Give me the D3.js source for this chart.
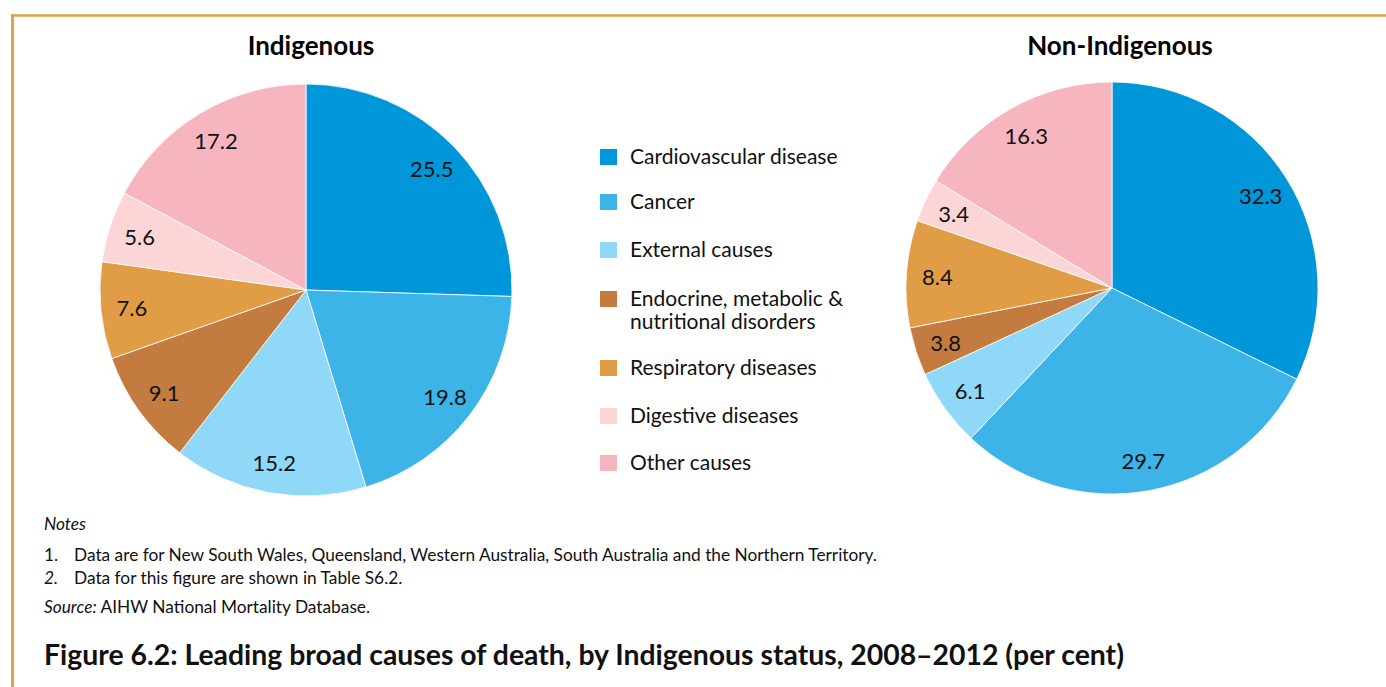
<!DOCTYPE html>
<html>
<head>
<meta charset="utf-8">
<script src="https://cdn.jsdelivr.net/npm/d3@7"></script>
<style>
  html, body { margin: 0; padding: 0; background: #fff; }
  svg { display: block; font-family: Lato, "Open Sans", sans-serif; }
</style>
</head>
<body>
<svg id="chart" width="1386" height="687"></svg>
<script>
// Causes of death, in drawing order (clockwise from 12 o'clock)
const causes = [
  "Cardiovascular disease",
  "Cancer",
  "External causes",
  "Endocrine, metabolic & nutritional disorders",
  "Respiratory diseases",
  "Digestive diseases",
  "Other causes"
];
// Legend text broken into lines
const legendLines = [
  ["Cardiovascular disease"],
  ["Cancer"],
  ["External causes"],
  ["Endocrine, metabolic &", "nutritional disorders"],
  ["Respiratory diseases"],
  ["Digestive diseases"],
  ["Other causes"]
];
const causeColors = ["#0097da", "#3cb4e7", "#8fd8f8", "#c37b40", "#e09d45", "#fcd6d6", "#f7b5c0"];

// Per cent of deaths, 2008–2012
const indigenous    = [25.5, 19.8, 15.2, 9.1, 7.6, 5.6, 17.2];
const nonIndigenous = [32.3, 29.7, 6.1, 3.8, 8.4, 3.4, 16.3];

const panelTitles = ["Indigenous", "Non-Indigenous"];
const notes = [
  "Data are for New South Wales, Queensland, Western Australia, South Australia and the Northern Territory.",
  "Data for this figure are shown in Table S6.2."
];
const source = "AIHW National Mortality Database.";
const figureTitle = "Figure 6.2: Leading broad causes of death, by Indigenous status, 2008\u20132012 (per cent)";

const svg = d3.select("#chart");

// Frame: rule along the top and down the left edge
const frameColor = "#e3a04b";
svg.append("line").attr("x1", 11).attr("x2", 1386).attr("y1", 15.5).attr("y2", 15.5)
  .attr("stroke", frameColor).attr("stroke-width", 2.5);
svg.append("line").attr("x1", 12.5).attr("x2", 12.5).attr("y1", 14.5).attr("y2", 687)
  .attr("stroke", frameColor).attr("stroke-width", 3);

const color = d3.scaleOrdinal().domain(causes).range(causeColors);

const radius = 206;
const pie = d3.pie().sort(null).value(d => d.value);
const arc = d3.arc().innerRadius(0).outerRadius(radius);
const labelArc = d3.arc().innerRadius(175).outerRadius(175);

const panels = [
  { title: panelTitles[0], values: indigenous, cx: 306, cy: 290, tx: 311 },
  { title: panelTitles[1], values: nonIndigenous, cx: 1112, cy: 288, tx: 1120 }
];

panels.forEach(p => {
  const data = causes.map((c, i) => ({ cause: c, value: p.values[i] }));
  svg.append("text")
    .attr("x", p.tx).attr("y", 55)
    .attr("text-anchor", "middle")
    .attr("font-size", 26).attr("font-weight", 700).attr("fill", "#000")
    .text(p.title);

  const g = svg.append("g").attr("transform", `translate(${p.cx},${p.cy})`);
  const arcs = pie(data);
  g.selectAll("path").data(arcs).join("path")
    .attr("d", arc)
    .attr("fill", d => color(d.data.cause))
    .attr("stroke", "#fff").attr("stroke-width", 0.8);
  g.selectAll("text").data(arcs).join("text")
    .attr("transform", d => `translate(${labelArc.centroid(d)})`)
    .attr("text-anchor", "middle")
    .attr("dy", "0.4em")
    .attr("font-size", 22).attr("fill", "#111")
    .text(d => d3.format(".1f")(d.data.value));
});

// Legend
const legendY = [157, 202, 250, 299, 368, 416, 463];
const legend = svg.append("g");
causes.forEach((c, i) => {
  const row = legend.append("g").attr("transform", `translate(600,${legendY[i]})`);
  row.append("rect").attr("x", 0).attr("y", -8).attr("width", 17).attr("height", 16)
    .attr("fill", color(c));
  const t = row.append("text").attr("x", 30).attr("y", 7)
    .attr("font-size", 21).attr("fill", "#111");
  legendLines[i].forEach((line, j) => {
    t.append("tspan").attr("x", 30).attr("dy", j === 0 ? 0 : 23).text(line);
  });
});

// Notes and source
const small = 17.3;
svg.append("text").attr("x", 44).attr("y", 530).attr("font-size", small)
  .attr("font-style", "italic").attr("fill", "#111").text("Notes");
notes.forEach((n, i) => {
  const y = 561 + i * 22.5;
  svg.append("text").attr("x", 44).attr("y", y).attr("font-size", small)
    .attr("fill", "#111").attr("font-style", i === 1 ? "italic" : null).text(`${i + 1}.`);
  svg.append("text").attr("x", 74).attr("y", y).attr("font-size", small)
    .attr("fill", "#111").text(n);
});
const src = svg.append("text").attr("x", 44).attr("y", 613).attr("font-size", small).attr("fill", "#111");
src.append("tspan").attr("font-style", "italic").text("Source:");
src.append("tspan").text(" " + source);

// Figure title
svg.append("text").attr("x", 44).attr("y", 665)
  .attr("font-size", 28.4).attr("font-weight", 700).attr("fill", "#111")
  .text(figureTitle);
</script>
</body>
</html>
